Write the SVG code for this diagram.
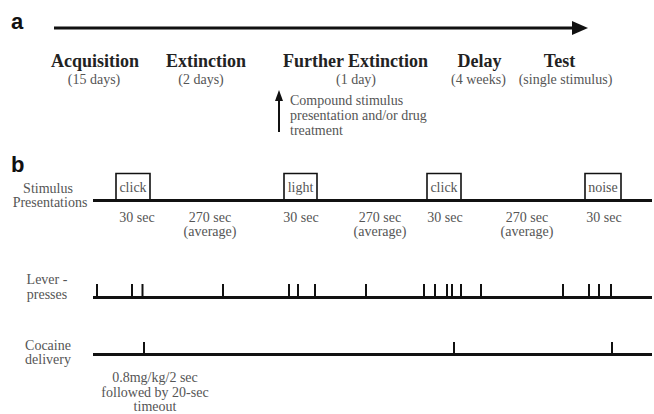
<svg xmlns="http://www.w3.org/2000/svg" width="654" height="414" viewBox="0 0 654 414">
<style>
.lbl{font-family:"Liberation Sans",Arial,sans-serif;font-weight:bold;font-size:22px;fill:#111}
.ttl{font-family:"Liberation Serif","Times New Roman",serif;font-weight:bold;font-size:18px;fill:#222;text-anchor:middle}
.t{font-family:"Liberation Serif","Times New Roman",serif;font-size:14px;fill:#555;text-anchor:middle}
.ts{font-family:"Liberation Serif","Times New Roman",serif;font-size:14px;fill:#555}
.axis{stroke:#111;stroke-width:3;fill:none}
.box{stroke:#111;stroke-width:1.6;fill:none}
.tick{stroke:#111;stroke-width:2}
.head{fill:#111}
</style>

<text class="lbl" x="11" y="29">a</text>
<text class="lbl" x="11" y="172">b</text>

<g id="connectors">
<line x1="54" y1="28" x2="574" y2="28" stroke="#111" stroke-width="3.2"/>
<polygon class="head" points="572,21 588,28 572,35"/>
<line x1="279" y1="132" x2="279" y2="98" stroke="#111" stroke-width="2"/>
<polygon class="head" points="275,101 279,90 283,101"/>
</g>

<g id="acquisition">
<text class="ttl" x="95" y="67">Acquisition</text>
<text class="t" x="94" y="84">(15 days)</text>
</g>
<g id="extinction">
<text class="ttl" x="206" y="67">Extinction</text>
<text class="t" x="201" y="84">(2 days)</text>
</g>
<g id="further-extinction">
<text class="ttl" x="355.5" y="67">Further Extinction</text>
<text class="t" x="356" y="84">(1 day)</text>
</g>
<g id="delay">
<text class="ttl" x="479.5" y="67">Delay</text>
<text class="t" x="478.5" y="84">(4 weeks)</text>
</g>
<g id="test">
<text class="ttl" x="559.5" y="67">Test</text>
<text class="t" x="565.5" y="84">(single stimulus)</text>
</g>
<g id="compound-note">
<text class="ts" x="290" y="105">Compound stimulus</text>
<text class="ts" x="290" y="120">presentation and/or drug</text>
<text class="ts" x="290" y="135">treatment</text>
</g>

<g id="stimulus-row">
<text class="t" x="48" y="193">Stimulus</text>
<text class="t" x="50" y="207">Presentations</text>
<line class="axis" x1="93" y1="200.5" x2="652" y2="200.5"/>
<polyline class="box" points="116,200 116,173.5 150,173.5 150,200"/>
<text class="t" x="133" y="192">click</text>
<polyline class="box" points="284,200 284,173.5 317,173.5 317,200"/>
<text class="t" x="300.5" y="192">light</text>
<polyline class="box" points="427,200 427,173.5 461,173.5 461,200"/>
<text class="t" x="444" y="192">click</text>
<polyline class="box" points="585,200 585,173.5 621,173.5 621,200"/>
<text class="t" x="603" y="192">noise</text>
<text class="t" x="137" y="222">30 sec</text>
<text class="t" x="210" y="222">270 sec</text>
<text class="t" x="210" y="236">(average)</text>
<text class="t" x="301" y="222">30 sec</text>
<text class="t" x="380" y="222">270 sec</text>
<text class="t" x="380" y="236">(average)</text>
<text class="t" x="445" y="222">30 sec</text>
<text class="t" x="527" y="222">270 sec</text>
<text class="t" x="527" y="236">(average)</text>
<text class="t" x="604" y="222">30 sec</text>
</g>

<g id="lever-row">
<text class="t" x="47" y="284">Lever -</text>
<text class="t" x="47" y="299">presses</text>
<line class="axis" x1="93" y1="297.5" x2="652" y2="297.5"/>
<g class="tick">
<line x1="97" y1="284" x2="97" y2="297"/>
<line x1="132" y1="284" x2="132" y2="297"/>
<line x1="142.5" y1="284" x2="142.5" y2="297"/>
<line x1="223" y1="284" x2="223" y2="297"/>
<line x1="289" y1="284" x2="289" y2="297"/>
<line x1="298" y1="284" x2="298" y2="297"/>
<line x1="315" y1="284" x2="315" y2="297"/>
<line x1="366" y1="284" x2="366" y2="297"/>
<line x1="424" y1="284" x2="424" y2="297"/>
<line x1="435" y1="284" x2="435" y2="297"/>
<line x1="447" y1="284" x2="447" y2="297"/>
<line x1="452" y1="284" x2="452" y2="297"/>
<line x1="461" y1="284" x2="461" y2="297"/>
<line x1="481" y1="284" x2="481" y2="297"/>
<line x1="563" y1="284" x2="563" y2="297"/>
<line x1="589" y1="284" x2="589" y2="297"/>
<line x1="599" y1="284" x2="599" y2="297"/>
<line x1="611" y1="284" x2="611" y2="297"/>
</g>
</g>

<g id="cocaine-row">
<text class="t" x="48" y="350">Cocaine</text>
<text class="t" x="48" y="364">delivery</text>
<line class="axis" x1="93" y1="354.5" x2="652" y2="354.5"/>
<g class="tick">
<line x1="144" y1="342" x2="144" y2="354"/>
<line x1="454" y1="342" x2="454" y2="354"/>
<line x1="612" y1="342" x2="612" y2="354"/>
</g>
<text class="t" x="155" y="382">0.8mg/kg/2 sec</text>
<text class="t" x="155" y="397">followed by 20-sec</text>
<text class="t" x="155" y="411">timeout</text>
</g>
</svg>
